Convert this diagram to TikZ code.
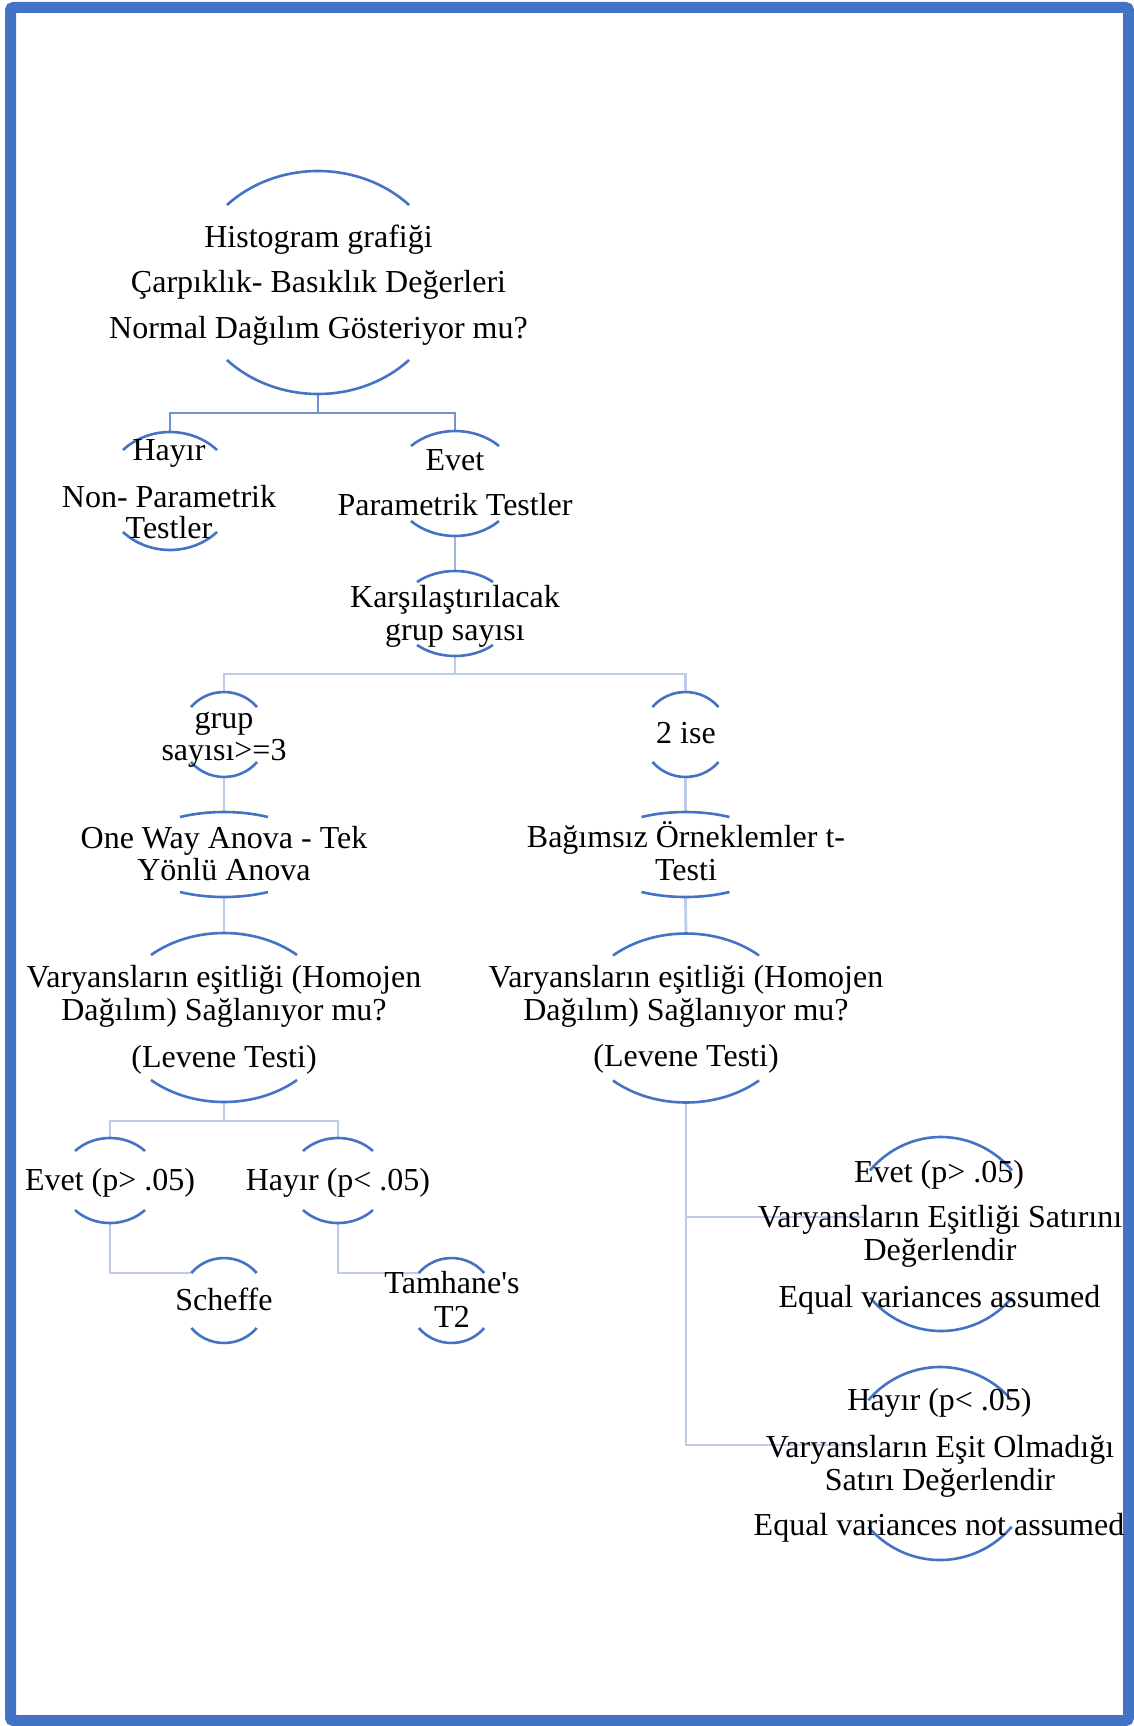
\documentclass[tikz,border=0pt]{standalone}
\usepackage{fontspec}
\setmainfont{Liberation Serif}
\usetikzlibrary{shapes.geometric}
\definecolor{arcblue}{HTML}{4472C4}
\definecolor{frameblue}{HTML}{4472C4}
\definecolor{colA}{RGB}{116,146,211}
\definecolor{colB}{RGB}{160,180,225}
\definecolor{colC}{RGB}{190,204,234}
\pgfdeclarelayer{bg}
\pgfsetlayers{bg,main}
\tikzset{
  arcline/.style={draw=arcblue, line width=2.6pt},
  shapebox/.style={ellipse, inner sep=0pt, outer sep=0pt, draw=none},
  txt/.style={anchor=base, inner sep=0pt, font=\fontsize{32}{38}\selectfont},
  connA/.style={draw=colA, line width=2.8pt},
  connB/.style={draw=colB, line width=2.8pt},
  connC/.style={draw=colC, line width=2.8pt},
  frameline/.style={draw=frameblue, line width=11pt, rounded corners=3pt}
}
% name, cx, cy (pixels, downward), a, b, theta
\newcommand\capshape[6]{%
  \node[shapebox, minimum width={2*#4pt}, minimum height={2*#5pt}] (#1) at (#2,-#3) {};
  \draw[arcline] ([shift={(#2,-#3)}]#6:#4pt and #5pt) arc[start angle=#6, end angle={180-#6}, x radius=#4pt, y radius=#5pt];
  \draw[arcline] ([shift={(#2,-#3)}]{180+#6}:#4pt and #5pt) arc[start angle={180+#6}, end angle={360-#6}, x radius=#4pt, y radius=#5pt];
}
\begin{document}
\begin{tikzpicture}[x=1pt,y=1pt]
\useasboundingbox (0,0) rectangle (1134,-1726);
\draw[frameline] (10.5,-7.5) rectangle (1128.5,-1720.5);

% shapes
\capshape{m}{318}{282.5}{126.6}{111.5}{44}
\capshape{h1}{170}{491}{65.4}{59}{44}
\capshape{e1}{455}{483.5}{62.9}{52.5}{45.6}
\capshape{k}{455}{613.5}{56.5}{42.5}{47.8}
\capshape{g3}{224}{734.5}{43.3}{42.5}{40.3}
\capshape{g2}{685.5}{734.5}{43.3}{42.5}{40.3}
\capshape{ow}{224}{854.5}{93.4}{42.5}{61.9}
\capshape{bt}{685.5}{854.5}{93.4}{42.5}{61.9}
\capshape{vl}{224}{1017.5}{108.5}{84.5}{47.7}
\capshape{vr}{686}{1018}{108.5}{84.5}{47.7}
\capshape{le}{110}{1180.5}{48.6}{42.5}{44}
\capshape{lh}{338}{1180.5}{48.6}{42.5}{44}
\capshape{sc}{224}{1300.5}{42.9}{42.5}{40.3}
\capshape{tm}{451.5}{1300.5}{42.9}{42.5}{40.3}
\capshape{re}{941}{1234}{94}{97}{41}
\capshape{rh}{940}{1463.5}{95}{96.5}{41}

% connectors
\coordinate (j1) at (318,-413);
\coordinate (j2) at (455,-674);
\coordinate (j3) at (224,-1121);
\coordinate (scin) at (191,-1273);
\coordinate (tmin) at (419,-1273);
\coordinate (rein) at (865,-1217);
\coordinate (rhin) at (867,-1445);
\begin{pgfonlayer}{bg}
\draw[connA] (m.south) -- (j1) -| (h1.north);
\draw[connA] (j1) -| (e1.north);
\draw[connB] (e1.south) -- (k.north);
\draw[connC] (k.south) -- (j2) -| (g3.north);
\draw[connC] (j2) -| (g2.north);
\draw[connC] (g3.south) -- (ow.north);
\draw[connC] (ow.south) -- (vl.north);
\draw[connC] (vl.south) -- (j3) -| (le.north);
\draw[connC] (j3) -| (lh.north);
\draw[connC] (le.south) |- (scin);
\draw[connC] (lh.south) |- (tmin);
\draw[connC] (g2.south) -- (bt.north);
\draw[connC] (bt.south) -- (vr.north);
\draw[connC] (vr.south) |- (rhin);
\draw[connC] (vr.south) |- (rein);
\end{pgfonlayer}

% texts
\node[txt] (m1) at (318.5,-247) {Histogram grafiği};
\node[txt] (m2) at (318.5,-292) {Çarpıklık- Basıklık Değerleri};
\node[txt] (m3) at (318.5,-338) {Normal Dağılım Gösteriyor mu?};
\node[txt] (h1a) at (169,-460) {Hayır};
\node[txt] (h1b) at (169,-507) {Non- Parametrik};
\node[txt] (h1c) at (169,-538) {Testler};
\node[txt] (e1a) at (455,-470) {Evet};
\node[txt] (e1b) at (455,-515) {Parametrik Testler};
\node[txt] (ka) at (455,-607) {Karşılaştırılacak};
\node[txt] (kb) at (455,-640) {grup sayısı};
\node[txt] (g3a) at (224,-728) {grup};
\node[txt] (g3b) at (224,-760) {sayısı>=3};
\node[txt] (g2a) at (686,-743) {2 ise};
\node[txt] (owa) at (224,-848) {One Way Anova - Tek};
\node[txt] (owb) at (224,-880) {Yönlü Anova};
\node[txt] (bta) at (686,-847) {Bağımsız Örneklemler t-};
\node[txt] (btb) at (686,-880) {Testi};
\node[txt] (vla) at (224,-987) {Varyansların eşitliği (Homojen};
\node[txt] (vlb) at (224,-1020) {Dağılım) Sağlanıyor mu?};
\node[txt] (vlc) at (224,-1067) {(Levene Testi)};
\node[txt] (vra) at (686,-987) {Varyansların eşitliği (Homojen};
\node[txt] (vrb) at (686,-1020) {Dağılım) Sağlanıyor mu?};
\node[txt] (vrc) at (686,-1066) {(Levene Testi)};
\node[txt] (lea) at (110,-1190) {Evet (p> .05)};
\node[txt] (lha) at (338,-1190) {Hayır (p< .05)};
\node[txt] (sca) at (224,-1310) {Scheffe};
\node[txt] (tma) at (452,-1293) {Tamhane\textquotesingle s};
\node[txt] (tmb) at (452,-1327) {T2};
\node[txt] (rea) at (939,-1182) {Evet (p> .05)};
\node[txt] (reb) at (940,-1227) {Varyansların Eşitliği Satırını};
\node[txt] (rec) at (940,-1260) {Değerlendir};
\node[txt] (red) at (939.5,-1307) {Equal variances assumed};
\node[txt] (rha) at (939.5,-1410) {Hayır (p< .05)};
\node[txt] (rhb) at (940,-1457) {Varyansların Eşit Olmadığı};
\node[txt] (rhc) at (940,-1490) {Satırı Değerlendir};
\node[txt] (rhd) at (939,-1535) {Equal variances not assumed};
\end{tikzpicture}
\end{document}
